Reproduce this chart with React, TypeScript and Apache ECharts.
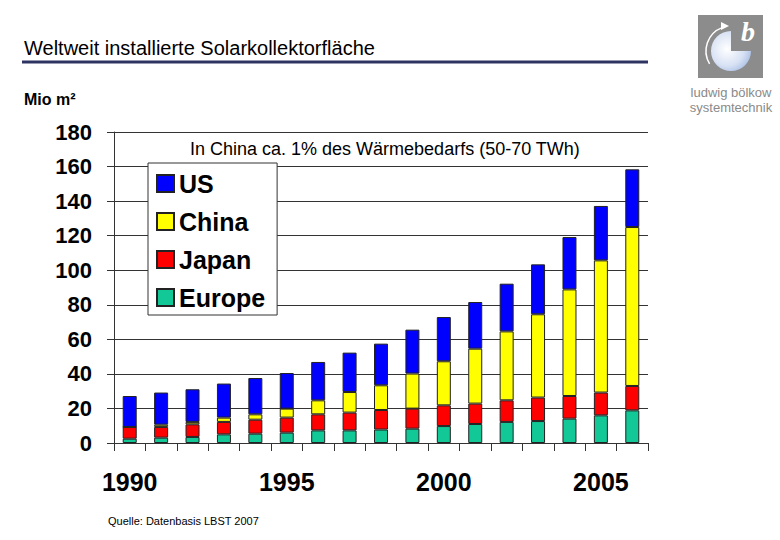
import React, { useEffect, useRef } from "react";
import * as echarts from "echarts";

const years = ["1990","1991","1992","1993","1994","1995","1996","1997","1998","1999","2000","2001","2002","2003","2004","2005","2006"];
const europe = [2.5, 3.1, 3.5, 5.0, 5.4, 6.0, 7.3, 7.3, 7.8, 8.3, 9.8, 11.0, 12.2, 12.7, 14.1, 16.0, 18.9];
const japan = [6.8, 6.2, 7.3, 7.2, 8.1, 8.7, 9.3, 10.3, 11.3, 11.6, 12.0, 11.8, 12.5, 13.6, 13.1, 13.2, 14.1];
const china = [0, 1.3, 1.4, 2.5, 3.1, 5.2, 8.1, 11.9, 14.3, 20.3, 25.5, 31.8, 39.9, 48.2, 61.7, 76.5, 92.0];
const us = [17.9, 18.6, 18.9, 19.7, 21.0, 20.6, 22.2, 22.8, 24.1, 25.4, 25.6, 27.0, 27.6, 28.9, 30.3, 31.5, 33.4];
const legendOrder = ["US", "China", "Japan", "Europe"];

const FONT = '"Liberation Sans", Arial, sans-serif';

export default function App() {
  const ref = useRef<HTMLDivElement>(null);
  useEffect(() => {
    if (!ref.current) return;
    const chart = echarts.init(ref.current, undefined, { renderer: "svg" });
    const barStyle = (color: string) => ({ color, borderColor: "#222", borderWidth: 1 });
    const mk = (name: string, data: number[], color: string) => ({
      name,
      type: "bar",
      stack: "total",
      barWidth: 14,
      data,
      itemStyle: barStyle(color),
    });
    chart.setOption({
      animation: false,
      backgroundColor: "#fff",
      textStyle: { fontFamily: FONT },
      grid: { left: 114, right: 132, top: 132, bottom: 97 },
      legend: {
        data: legendOrder,
        orient: "vertical",
        left: 148,
        top: 163,
        itemWidth: 17,
        itemHeight: 17,
        itemGap: 13,
        padding: [8, 12, 5, 8],
        backgroundColor: "#fff",
        borderColor: "#333",
        borderWidth: 1,
        selectedMode: false,
        icon: "rect",
        textStyle: { fontSize: 25, fontWeight: "bold", color: "#000", fontFamily: FONT, lineHeight: 25 },
      },
      xAxis: {
        type: "category",
        data: years,
        boundaryGap: true,
        axisLine: { lineStyle: { color: "#333", width: 1 } },
        axisTick: { show: true, length: 8, alignWithLabel: false, interval: 0, lineStyle: { color: "#333" } },
        axisLabel: { interval: 4, fontSize: 25, fontWeight: "bold", color: "#000", margin: 26, fontFamily: FONT },
      },
      yAxis: {
        type: "value",
        min: 0,
        max: 180,
        interval: 20,
        axisLine: { show: true, lineStyle: { color: "#333", width: 1 } },
        axisTick: { show: true, length: 7, lineStyle: { color: "#333" } },
        axisLabel: { fontSize: 22, fontWeight: "bold", color: "#000", margin: 22, fontFamily: FONT },
        splitLine: { show: true, lineStyle: { color: "#333", width: 1 } },
      },
      series: [
        mk("Europe", europe, "#12c896"),
        mk("Japan", japan, "#ff0000"),
        mk("China", china, "#ffff00"),
        mk("US", us, "#0000ff"),
      ],
      graphic: [
        { type: "text", left: 24, top: 38, style: { text: "Weltweit installierte Solarkollektorfläche", font: `20px ${FONT}`, fill: "#000" } },
        { type: "line", shape: { x1: 22, y1: 62, x2: 648, y2: 62 }, style: { stroke: "#2e3462", lineWidth: 3 } },
        { type: "text", left: 24, top: 91, style: { text: "Mio m²", font: `bold 16px ${FONT}`, fill: "#000" } },
        { type: "text", left: 190, top: 140, z: 10, style: { text: "In China ca. 1% des Wärmebedarfs (50-70 TWh)", font: `18px ${FONT}`, fill: "#000" } },
        { type: "text", left: 108, top: 515, style: { text: "Quelle: Datenbasis LBST 2007", font: `11px ${FONT}`, fill: "#000" } },
        {
          type: "group",
          children: [
            { type: "rect", shape: { x: 698, y: 15, width: 65, height: 63 }, style: { fill: "#8c8c8c" } },
            {
              type: "sector",
              shape: { cx: 731, cy: 51, r: 20, r0: 0, startAngle: 0, endAngle: Math.PI * 1.5, clockwise: true },
              style: {
                fill: new echarts.graphic.RadialGradient(0.4, 0.45, 0.7, [
                  { offset: 0, color: "#ffffff" },
                  { offset: 0.6, color: "#d8e2f4" },
                  { offset: 1, color: "#9fb6e2" },
                ]),
              },
            },
            {
              type: "arc",
              shape: { cx: 731, cy: 51, r: 25, startAngle: 2.6, endAngle: 4.35, clockwise: true },
              style: { stroke: "#ffffff", lineWidth: 1.5, fill: "none" },
            },
            { type: "polygon", shape: { points: [[721, 22], [729, 26], [721, 30]] }, style: { fill: "#ffffff" } },
            { type: "text", x: 741, y: 17, style: { text: "b", font: `italic bold 28px "Liberation Serif", serif`, fill: "#ffffff" } },
          ],
        },
        { type: "text", x: 731, y: 86, style: { text: "ludwig bölkow", font: `13px ${FONT}`, fill: "#8a8a8a", align: "center" } },
        { type: "text", x: 731, y: 101, style: { text: "systemtechnik", font: `13px ${FONT}`, fill: "#8a8a8a", align: "center" } },
      ],
    });
    return () => chart.dispose();
  }, []);
  return <div ref={ref} style={{ position: "fixed", left: 0, top: 0, width: 780, height: 540 }} />;
}
